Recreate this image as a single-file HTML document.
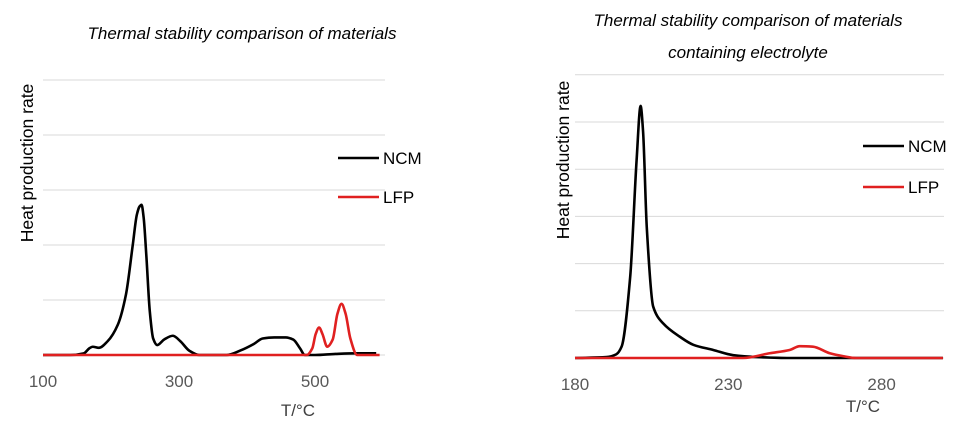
<!DOCTYPE html>
<html><head><meta charset="utf-8"><style>
body{margin:0;background:#fff;}
svg{display:block;font-family:"Liberation Sans",sans-serif;}
</style></head><body>
<svg id="c" width="975" height="431"></svg>
<script>
// Left chart data
const leftTicks = [100, 300, 500];
const leftNcmT = [100,140,160,168,173,182,195,210,222,232,238,242,245,248,252,257,262,268,278,291,302,315,330,370,390,410,423,440,457,468,478,485,500,530,560,590];
const leftNcmV = [0,0,0.03,0.12,0.15,0.13,0.25,0.55,1.1,2.0,2.55,2.7,2.73,2.5,1.8,0.8,0.3,0.18,0.28,0.35,0.25,0.08,0,0,0.08,0.2,0.3,0.32,0.32,0.28,0.12,0,0,0.02,0.03,0.03];
const leftLfpT = [100,488,496,501,506,511,518,526,533,539,545,552,562,595];
const leftLfpV = [0,0,0.12,0.38,0.5,0.38,0.15,0.28,0.75,0.93,0.75,0.3,0,0];
// Right chart data
const rightTicks = [180, 230, 280];
const rightNcmT = [180,190.3,193.5,195.2,198,200.1,201.4,202.2,203.4,205.5,208.8,214.2,218.6,225.1,231.6,239.2,250,300];
const rightNcmV = [0,0.02,0.08,0.24,1.72,4.2,5.34,4.8,2.78,1.09,0.73,0.45,0.28,0.17,0.06,0.02,0,0];
const rightLfpT = [180,234.8,243.5,250,253.3,257.6,263.1,267.4,271.7,300];
const rightLfpV = [0,0,0.1,0.17,0.25,0.24,0.1,0.04,0,0];

const NS="http://www.w3.org/2000/svg";
const svg=document.getElementById('c');
function mk(tag,attrs,parent){const e=document.createElementNS(NS,tag);for(const k in attrs)e.setAttribute(k,attrs[k]);(parent||svg).appendChild(e);return e;}
// monotone cubic interpolation (Fritsch-Carlson) in pixel space
function path(p){
  const n=p.length,d=[],m=[];
  for(let i=0;i<n-1;i++)d.push((p[i+1][1]-p[i][1])/(p[i+1][0]-p[i][0]));
  m[0]=d[0];m[n-1]=d[n-2];
  for(let i=1;i<n-1;i++){ if(d[i-1]*d[i]<=0) m[i]=0; else { const h0=p[i][0]-p[i-1][0],h1=p[i+1][0]-p[i][0];
    m[i]=3*(h0+h1)/((2*h1+h0)/d[i-1]+(h1+2*h0)/d[i]); } }
  let s='M'+p[0][0]+','+p[0][1];
  for(let i=0;i<n-1;i++){const h=(p[i+1][0]-p[i][0])/3;
    s+=' C'+(p[i][0]+h)+','+(p[i][1]+m[i]*h)+' '+(p[i+1][0]-h)+','+(p[i+1][1]-m[i+1]*h)+' '+p[i+1][0]+','+p[i+1][1];}
  return s;
}

function chart(cfg){
  const g=mk('g',{});
  
  
  const x=v=>cfg.x0+(v-cfg.t0)*cfg.kx, y=v=>cfg.base-v*cfg.ky;
  for(let i=1;i<=cfg.ngrid;i++){const l=mk('line',{x1:cfg.x0,x2:cfg.x1,y1:y(i),y2:y(i),stroke:'#d9d9d9','stroke-width':1},g);
    }
  const ax=mk('line',{x1:cfg.x0,x2:cfg.x1,y1:cfg.base,y2:cfg.base,stroke:'#d9d9d9','stroke-width':1},g);
  
  cfg.ticks.forEach(t=>{const e=mk('text',{x:x(t),y:cfg.base+32,'text-anchor':'middle','font-size':17,fill:'#595959'},g);e.textContent=t;
    });
  [[cfg.ncmT,cfg.ncmV,'#000','ncm-line'],[cfg.lfpT,cfg.lfpV,'#e02020','lfp-line']].forEach(s=>{
    const pts=s[0].map((t,i)=>[x(t),y(s[1][i])]);
    const p=mk('path',{d:path(pts),fill:'none',stroke:s[2],'stroke-width':2.6,'stroke-linejoin':'round'},g);
    });
  return g;
}
chart({name:'left-chart',x0:43,x1:385,t0:100,kx:136/200,base:355,ky:55,ngrid:5,ticks:leftTicks,ncmT:leftNcmT,ncmV:leftNcmV,lfpT:leftLfpT,lfpV:leftLfpV});
chart({name:'right-chart',x0:575,x1:944,t0:180,kx:153.3/50,base:358,ky:47.2,ngrid:6,ticks:rightTicks,ncmT:rightNcmT,ncmV:rightNcmV,lfpT:rightLfpT,lfpV:rightLfpV});

function txt(s,a,name){const e=mk('text',a);e.textContent=s;return e;}
txt('Thermal stability comparison of materials',{x:242,y:39,'text-anchor':'middle','font-size':17,'font-style':'italic',fill:'#000'},'left-title');
txt('Thermal stability comparison of materials',{x:748,y:26,'text-anchor':'middle','font-size':17,'font-style':'italic',fill:'#000'},'right-title-line1');
txt('containing electrolyte',{x:748,y:58,'text-anchor':'middle','font-size':17,'font-style':'italic',fill:'#000'},'right-title-line2');
txt('Heat production rate',{x:0,y:0,'text-anchor':'middle','font-size':17.5,fill:'#000',transform:'translate(33,163) rotate(-90)'},'left-y-axis-title');
txt('Heat production rate',{x:0,y:0,'text-anchor':'middle','font-size':17.5,fill:'#000',transform:'translate(569,160) rotate(-90)'},'right-y-axis-title');
txt('T/°C',{x:298,y:416,'text-anchor':'middle','font-size':17,fill:'#404040'},'left-x-axis-title');
txt('T/°C',{x:863,y:412,'text-anchor':'middle','font-size':17,fill:'#404040'},'right-x-axis-title');
function legend(x,yy,col,label,name){const l=mk('line',{x1:x,x2:x+41,y1:yy,y2:yy,stroke:col,'stroke-width':2.6});
  
  txt(label,{x:x+45,y:yy+6,'font-size':17,fill:'#000'},name+'-label');}
legend(338,158,'#000','NCM','left-legend-ncm');
legend(338,197,'#e02020','LFP','left-legend-lfp');
legend(863,146,'#000','NCM','right-legend-ncm');
legend(863,187,'#e02020','LFP','right-legend-lfp');
</script>
</body></html>
